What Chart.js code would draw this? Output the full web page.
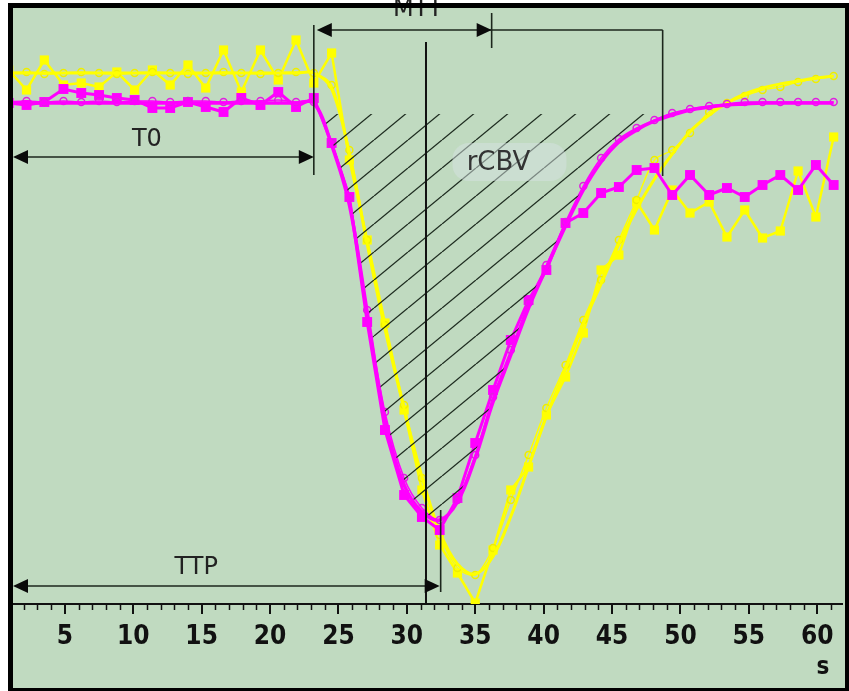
<!DOCTYPE html>
<html>
<head>
<meta charset="utf-8">
<script src="https://cdn.jsdelivr.net/npm/chart.js@4.4.0/dist/chart.umd.min.js"></script>
<style>
  html, body { margin: 0; padding: 0; background: #fff; }
  canvas { display: block; }
</style>
</head>
<body>
<canvas id="c" width="849" height="691"></canvas>
<script>
// sample times (s)
const times = [0.9, 2.2, 3.5, 4.9, 6.2, 7.5, 8.8, 10.1, 11.4, 12.7, 14.0, 15.3, 16.6, 17.9, 19.3, 20.6,
  21.9, 23.2, 24.5, 25.8, 27.1, 28.4, 29.8, 31.1, 32.4, 33.7, 35.0, 36.3, 37.6, 38.9, 40.2, 41.6,
  42.9, 44.2, 45.5, 46.8, 48.1, 49.4, 50.7, 52.1, 53.4, 54.7, 56.0, 57.3, 58.6, 59.9, 61.2]

// magenta curve: raw (squares), fitted points (circles), smooth fit
const magentaRaw = [100.2, 99.8, 100.4, 103.0, 102.2, 101.8, 101.2, 100.8, 99.2, 99.2, 100.4, 99.4,
  98.4, 101.2, 99.8, 102.4, 99.4, 101.2, 92.2, 81.4, 56.4, 34.8, 21.8, 17.4, 14.8, 21.2, 32.2, 42.8,
  52.8, 60.8, 66.8, 76.2, 78.2, 82.2, 83.4, 86.8, 87.2, 81.8, 85.8, 81.8, 83.2, 81.4, 83.8, 85.8,
  82.8, 87.8, 83.8]
const magentaPts = [100.4, 100.6, 100.4, 100.6, 100.4, 100.6, 100.4, 100.6, 100.6, 100.4, 100.6, 100.6,
  100.4, 100.6, 100.6, 100.8, 100.4, 100.4, 92.2, 81.2, 58.8, 38.4, 25.2, 19.2, 16.8, 20.8, 29.8, 41.4,
  50.8, 60.2, 67.8, 76.4, 83.6, 89.2, 93.0, 95.2, 96.8, 98.2, 99.0, 99.6, 100.0, 100.4, 100.4, 100.4,
  100.4, 100.4, 100.4]
const magentaFit = [100.2, 100.2, 100.2, 100.2, 100.2, 100.2, 100.2, 100.2, 100.2, 100.2, 100.2, 100.2,
  100.2, 100.2, 100.2, 100.2, 100.2, 100.2, 91.8, 79.8, 58.4, 36.8, 23.8, 18.4, 16.8, 20.4, 29.2, 40.4,
  49.8, 59.2, 67.2, 75.6, 82.8, 88.4, 92.4, 94.8, 96.6, 97.8, 98.8, 99.4, 99.8, 100.0, 100.2, 100.2,
  100.2, 100.2, 100.2]
// top of the hatched rCBV area
const rcbvTop = 98.0

// yellow curve
const yellowRaw = [106.8, 102.8, 108.8, 103.8, 104.2, 103.4, 106.4, 102.8, 106.8, 103.8, 107.8, 103.2,
  110.8, 102.4, 110.8, 104.8, 112.8, 104.2, 110.2, 88.8, 72.8, 56.2, 38.8, 22.8, 11.8, 6.2, 0.2, 10.8,
  22.8, 27.4, 37.8, 45.4, 54.2, 66.8, 69.8, 80.4, 74.8, 82.8, 78.2, 80.4, 73.4, 78.8, 73.2, 74.6,
  86.6, 77.4, 93.4]
const yellowPts = [106.2, 106.4, 106.0, 106.2, 106.4, 106.2, 106.0, 106.2, 106.4, 106.2, 106.0, 106.2,
  106.4, 106.2, 106.0, 106.2, 106.4, 106.2, 103.8, 90.8, 72.8, 55.8, 39.8, 25.2, 13.8, 7.2, 5.8, 11.2,
  20.8, 29.8, 39.2, 47.8, 56.8, 64.8, 72.8, 80.8, 88.8, 90.8, 94.2, 98.4, 100.2, 101.6, 102.8, 103.4,
  104.4, 105.0, 105.6]
const yellowFit = [106.2, 106.2, 106.2, 106.2, 106.2, 106.2, 106.2, 106.2, 106.2, 106.2, 106.2, 106.2,
  106.2, 106.2, 106.2, 106.2, 106.2, 106.2, 103.0, 90.0, 72.0, 55.0, 39.0, 25.5, 14.5, 8.0, 6.0, 9.5,
  17.5, 27.5, 37.5, 47.0, 56.0, 64.0, 72.0, 79.0, 85.0, 90.0, 94.5, 97.8, 100.2, 102.0, 103.2, 104.0,
  104.6, 105.2, 105.6]

// x axis tick labels
const tickLabels = [5, 10, 15, 20, 25, 30, 35, 40, 45, 50, 55, 60]

// measured times (s) for the annotations
const T0 = 23.2
const PEAK = 31.4
const TTP = 32.4
const MTT_END = 36.2
const FIT_END = 48.7

const MAG = '#ff00ff'
const YEL = '#ffff00'
const INK = '#1c261c'

const pts = arr => arr.map((v, i) => ({ x: times[i], y: v }))

function hatch () {
  const c = document.createElement('canvas')
  c.width = 34
  c.height = 28
  const g = c.getContext('2d')
  g.strokeStyle = '#1d2b1f'
  g.lineWidth = 1.3
  for (const dx of [-34, 0, 34]) {
    g.beginPath()
    g.moveTo(dx, 28)
    g.lineTo(dx + 34, 0)
    g.stroke()
  }
  return g.createPattern(c, 'repeat')
}

const frame = {
  id: 'frame',
  beforeDraw (chart) {
    const ctx = chart.ctx
    ctx.save()
    ctx.fillStyle = '#fff'
    ctx.fillRect(0, 0, chart.width, chart.height)
    ctx.fillStyle = '#c0dac0'
    ctx.fillRect(8, 4, 841, 687)
    ctx.restore()
  },
  afterDraw (chart) {
    const { ctx, chartArea: a, scales: { x } } = chart
    ctx.save()
    // minor ticks
    ctx.strokeStyle = '#111'
    ctx.lineWidth = 1.5
    for (let s = Math.ceil(x.min); s <= Math.floor(x.max); s++) {
      if (s % 5 === 0) continue
      const px = Math.round(x.getPixelForValue(s)) + 0.5
      ctx.beginPath()
      ctx.moveTo(px, a.bottom)
      ctx.lineTo(px, a.bottom + 6)
      ctx.stroke()
    }
    // unit
    ctx.fillStyle = '#111'
    ctx.font = 'bold 24px "Liberation Sans Narrow", "DejaVu Sans Condensed", sans-serif'
    ctx.textAlign = 'center'
    ctx.textBaseline = 'middle'
    ctx.fillText('s', a.right - 19, a.bottom + 64)
    // border
    ctx.fillStyle = '#000'
    ctx.fillRect(8, 3, 841, 5)
    ctx.fillRect(8, 3, 5, 688)
    ctx.fillRect(845, 3, 4, 688)
    ctx.fillRect(8, 688, 841, 3)
    ctx.restore()
  }
}

const annot = {
  id: 'annot',
  afterDatasetsDraw (chart) {
    const { ctx, chartArea: a, scales: { x, y } } = chart
    const X = v => x.getPixelForValue(v)
    const Y = v => y.getPixelForValue(v)
    const seg = (x1, y1, x2, y2) => {
      ctx.beginPath()
      ctx.moveTo(x1, y1)
      ctx.lineTo(x2, y2)
      ctx.stroke()
    }
    const head = (tx, ty, dir) => {
      ctx.beginPath()
      ctx.moveTo(tx, ty)
      ctx.lineTo(tx - dir * 15, ty - 7)
      ctx.lineTo(tx - dir * 15, ty + 7)
      ctx.closePath()
      ctx.fill()
    }
    ctx.save()
    ctx.strokeStyle = INK
    ctx.fillStyle = '#0a0a0a'
    ctx.lineWidth = 1.6

    // T0
    seg(X(T0), Y(115.8), X(T0), Y(85.8))
    const yT0 = Y(89.4)
    seg(a.left + 4, yT0, X(T0) - 4, yT0)
    head(a.left, yT0, -1)
    head(X(T0), yT0, 1)

    // MTT
    const yM = Y(114.8)
    seg(X(T0) + 8, yM, X(FIT_END), yM)
    head(X(T0) + 3, yM, -1)
    head(X(MTT_END), yM, 1)
    seg(X(MTT_END), Y(118.2), X(MTT_END), Y(111.2))
    seg(X(FIT_END), yM, X(FIT_END), Y(85.6))

    // peak line
    ctx.strokeStyle = '#111'
    ctx.lineWidth = 2
    seg(X(PEAK), Y(112.4), X(PEAK), Y(0))

    // TTP
    ctx.strokeStyle = INK
    ctx.lineWidth = 1.6
    const yT = Y(3.6)
    seg(a.left + 4, yT, X(TTP) - 4, yT)
    head(a.left, yT, -1)
    head(X(TTP), yT, 1)
    seg(X(TTP) + 1, Y(18.8), X(TTP) + 1, Y(2.4))

    // labels
    ctx.fillStyle = '#222'
    ctx.textAlign = 'center'
    ctx.textBaseline = 'middle'
    ctx.font = '24px "DejaVu Sans", sans-serif'
    ctx.fillText('T0', X(11.0), Y(92.8))
    ctx.fillText('TTP', X(14.6), Y(7.2))
    ctx.textBaseline = 'alphabetic'
    ctx.fillText('MTT', X(30.8), Y(117.6))

    // rCBV tag
    const cx = X(36.7)
    const cy = Y(88.4)
    ctx.fillStyle = 'rgba(214,226,226,0.5)'
    ctx.beginPath()
    ctx.roundRect(cx - 46, cy - 19, 114, 38, 16)
    ctx.fill()
    ctx.fillStyle = '#333'
    ctx.textBaseline = 'middle'
    ctx.font = '26px "DejaVu Sans", sans-serif'
    ctx.fillText('rCBV', cx, cy + 1)
    ctx.restore()
  }
}

new Chart(document.getElementById('c'), {
  type: 'line',
  data: {
    datasets: [
      {
        label: 'magenta fit',
        data: pts(magentaFit),
        borderColor: MAG,
        borderWidth: 3.5,
        pointRadius: 0,
        tension: 0.35,
        fill: { value: rcbvTop, above: 'rgba(0,0,0,0)', below: hatch() }
      },
      {
        label: 'magenta points',
        data: pts(magentaPts),
        borderColor: MAG,
        borderWidth: 1.5,
        tension: 0.3,
        pointStyle: 'circle',
        pointRadius: 3.5,
        pointBorderWidth: 1.5,
        pointBorderColor: '#e020e0',
        pointBackgroundColor: 'rgba(0,0,0,0)'
      },
      {
        label: 'magenta raw',
        data: pts(magentaRaw),
        borderColor: MAG,
        borderWidth: 3,
        tension: 0,
        pointStyle: 'rect',
        pointRadius: 7,
        pointBorderWidth: 0,
        pointBackgroundColor: MAG
      },
      {
        label: 'yellow fit',
        data: pts(yellowFit),
        borderColor: YEL,
        borderWidth: 3,
        pointRadius: 0,
        tension: 0.35
      },
      {
        label: 'yellow points',
        data: pts(yellowPts),
        borderColor: YEL,
        borderWidth: 1.5,
        tension: 0.3,
        pointStyle: 'circle',
        pointRadius: 3.5,
        pointBorderWidth: 1.5,
        pointBorderColor: '#eeee00',
        pointBackgroundColor: 'rgba(0,0,0,0)'
      },
      {
        label: 'yellow raw',
        data: pts(yellowRaw),
        borderColor: YEL,
        borderWidth: 2.5,
        tension: 0,
        pointStyle: 'rect',
        pointRadius: 6.5,
        pointBorderWidth: 0,
        pointBackgroundColor: YEL
      }
    ]
  },
  options: {
    responsive: false,
    animation: false,
    devicePixelRatio: 1,
    layout: { padding: { left: 13, right: 4, top: 8, bottom: 0 } },
    plugins: { legend: { display: false }, tooltip: { enabled: false } },
    scales: {
      x: {
        type: 'linear',
        min: 1.21,
        max: 61.81,
        afterFit (s) { s.height = 87 },
        border: { display: true, color: '#111', width: 2 },
        grid: { drawOnChartArea: false, tickLength: 10, color: '#111', lineWidth: 2 },
        ticks: {
          stepSize: 5,
          includeBounds: false,
          autoSkip: false,
          maxRotation: 0,
          padding: 8,
          color: '#111',
          font: { family: '"Liberation Sans Narrow", "DejaVu Sans Condensed", sans-serif', size: 26, weight: 'bold' },
          callback: v => tickLabels.includes(v) ? String(v) : ''
        }
      },
      y: { display: false, min: 0, max: 119.2 }
    }
  },
  plugins: [frame, annot]
})
</script>
</body>
</html>
